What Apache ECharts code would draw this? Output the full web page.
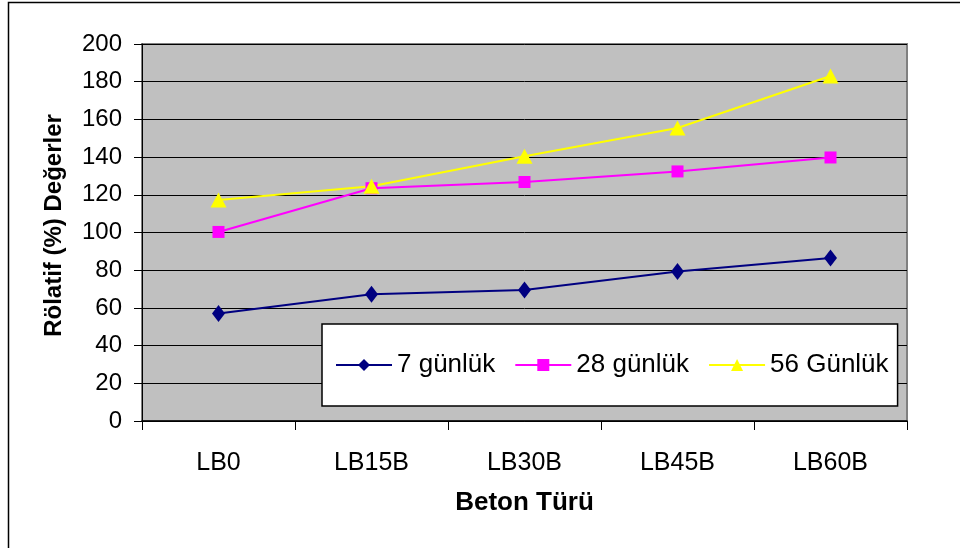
<!DOCTYPE html>
<html><head><meta charset="utf-8">
<script src="https://cdn.jsdelivr.net/npm/echarts@6/dist/echarts.min.js"></script>
<style>html,body{margin:0;padding:0;background:#fff}#c{width:960px;height:548px}</style>
</head><body><div id="c"></div>
<script>
const categories = ['LB0','LB15B','LB30B','LB45B','LB60B'];
const seriesNames = ['7 günlük','28 günlük','56 Günlük'];
const gun7 = [57, 67.3, 69.5, 79.3, 86.5];
const gun28 = [100.3, 123.5, 126.8, 132.4, 139.8];
const gun56 = [117.2, 124.5, 140.5, 155.4, 183];
const yTicks = {min:0, max:200, interval:20};

const font = 'Liberation Sans, Arial, sans-serif';
const chart = echarts.init(document.getElementById('c'), null, {renderer:'canvas'});
const grid = {left:142, top:44, width:765, height:377};
chart.setOption({
  animation:false,
  backgroundColor:'#fff',
  graphic:[
    {type:'rect', z:-10, shape:{x:8.5,y:2.5,width:980,height:600}, style:{fill:'#fff', stroke:'#000', lineWidth:1.5}},
    {type:'rect', z:-5, shape:{x:grid.left,y:grid.top,width:grid.width,height:grid.height}, style:{fill:'#C0C0C0', stroke:'#808080', lineWidth:2}}
  ],
  grid:{left:grid.left, top:grid.top, width:grid.width, height:grid.height, show:false},
  legend:{
    left:322, top:324, width:575, height:82,
    padding:[28,9,28,13],
    backgroundColor:'#fff', borderColor:'#000', borderWidth:1.5,
    itemWidth:56, itemHeight:15, itemGap:19,
    textStyle:{fontFamily:font, fontSize:26, color:'#000', padding:[0,0,0,0]},
    data:seriesNames
  },
  xAxis:{
    type:'category', data:categories, boundaryGap:true,
    axisLine:{lineStyle:{color:'#000', width:1.5}},
    axisTick:{show:true, length:9, lineStyle:{color:'#000'}},
    axisLabel:{fontFamily:font, fontSize:25, color:'#000', margin:30},
    name:'Beton Türü', nameLocation:'middle', nameGap:69,
    nameTextStyle:{fontFamily:font, fontSize:26, fontWeight:'bold', color:'#000'}
  },
  yAxis:{
    type:'value', min:yTicks.min, max:yTicks.max, interval:yTicks.interval,
    axisLine:{show:true, lineStyle:{color:'#000', width:1}},
    axisTick:{show:true, length:8, lineStyle:{color:'#000'}},
    axisLabel:{fontFamily:font, fontSize:24, color:'#000', margin:20},
    splitLine:{show:true, lineStyle:{color:'#000', width:1}},
    name:'Rölatif (%) Değerler', nameLocation:'middle', nameGap:76,
    nameTextStyle:{fontFamily:font, fontSize:24, fontWeight:'bold', color:'#000', padding:[0,0,0,14]}
  },
  series:[
    {name:seriesNames[0], type:'line', data:gun7, symbol:'diamond', symbolSize:[13,17],
     itemStyle:{color:'#000080'}, lineStyle:{color:'#000080', width:2}},
    {name:seriesNames[1], type:'line', data:gun28, symbol:'rect', symbolSize:12,
     itemStyle:{color:'#FF00FF'}, lineStyle:{color:'#FF00FF', width:2}},
    {name:seriesNames[2], type:'line', data:gun56, symbol:'triangle', symbolSize:[16,15],
     itemStyle:{color:'#FFFF00'}, lineStyle:{color:'#FFFF00', width:2}}
  ]
});
</script></body></html>
